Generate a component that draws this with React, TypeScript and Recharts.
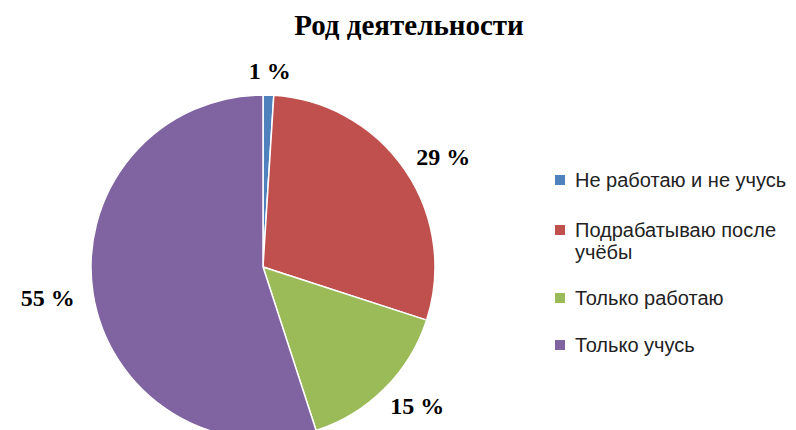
import { PieChart, Pie, Cell, Legend } from "recharts";

const categories = [
  "Не работаю и не учусь",
  "Подрабатываю после учёбы",
  "Только работаю",
  "Только учусь",
];
const shares = [1, 29, 15, 55];
const colors = ["#4F81BD", "#C0504D", "#9BBB59", "#8064A2"];

const data = categories.map((name, i) => ({ name, value: shares[i] }));

const RAD = Math.PI / 180;

function renderLabel(props: any) {
  const { cx, cy, midAngle, outerRadius, value } = props;
  const r = outerRadius + 16;
  const c = Math.cos(-midAngle * RAD);
  const s = Math.sin(-midAngle * RAD);
  // push the label box outward so its inner edge sits at r
  const x = cx + r * c + c * 30;
  const y = cy + r * s + s * 8;
  return (
    <text
      x={x}
      y={y}
      textAnchor="middle"
      dominantBaseline="central"
      fill="#000"
      style={{ fontFamily: "'Liberation Serif', serif", fontWeight: 700, fontSize: 24 }}
    >
      {`${value} %`}
    </text>
  );
}

const legendGaps = [28, 24, 25, 0];

function LegendList({ payload }: any) {
  return (
    <div style={{ fontFamily: "'Liberation Sans', Arial, sans-serif", fontSize: 20, color: "#222" }}>
      {(payload || []).map((p: any, i: number) => (
        <div
          key={i}
          style={{ display: "flex", alignItems: "flex-start", marginBottom: legendGaps[i], lineHeight: "22px" }}
        >
          <span
            style={{
              display: "inline-block",
              width: 10,
              height: 10,
              background: p.color,
              marginTop: 6,
              marginRight: 10,
              flex: "none",
            }}
          />
          <span style={{ width: 225 }}>{p.value}</span>
        </div>
      ))}
    </div>
  );
}

export default function App() {
  return (
    <div style={{ position: "absolute", left: 0, top: 0, width: 796, height: 430, background: "#fff" }}>
      <div
        style={{
          position: "absolute",
          left: 0,
          top: 9,
          width: 818,
          textAlign: "center",
          fontFamily: "'Liberation Serif', serif",
          fontWeight: 700,
          fontSize: 29,
          color: "#000",
        }}
      >
        Род деятельности
      </div>
      <PieChart width={796} height={430} margin={{ top: 0, right: 0, bottom: 0, left: 0 }}>
        <Pie
          data={data}
          dataKey="value"
          nameKey="name"
          cx={263}
          cy={267}
          outerRadius={172}
          startAngle={90}
          endAngle={-270}
          stroke="#fff"
          strokeWidth={1.5}
          label={renderLabel}
          labelLine={false}
          isAnimationActive={false}
        >
          {data.map((d, i) => (
            <Cell key={d.name} fill={colors[i]} />
          ))}
        </Pie>
        <Legend
          layout="vertical"
          content={<LegendList />}
          wrapperStyle={{ position: "absolute", left: 555, top: 169, width: 240 }}
        />
      </PieChart>
    </div>
  );
}
